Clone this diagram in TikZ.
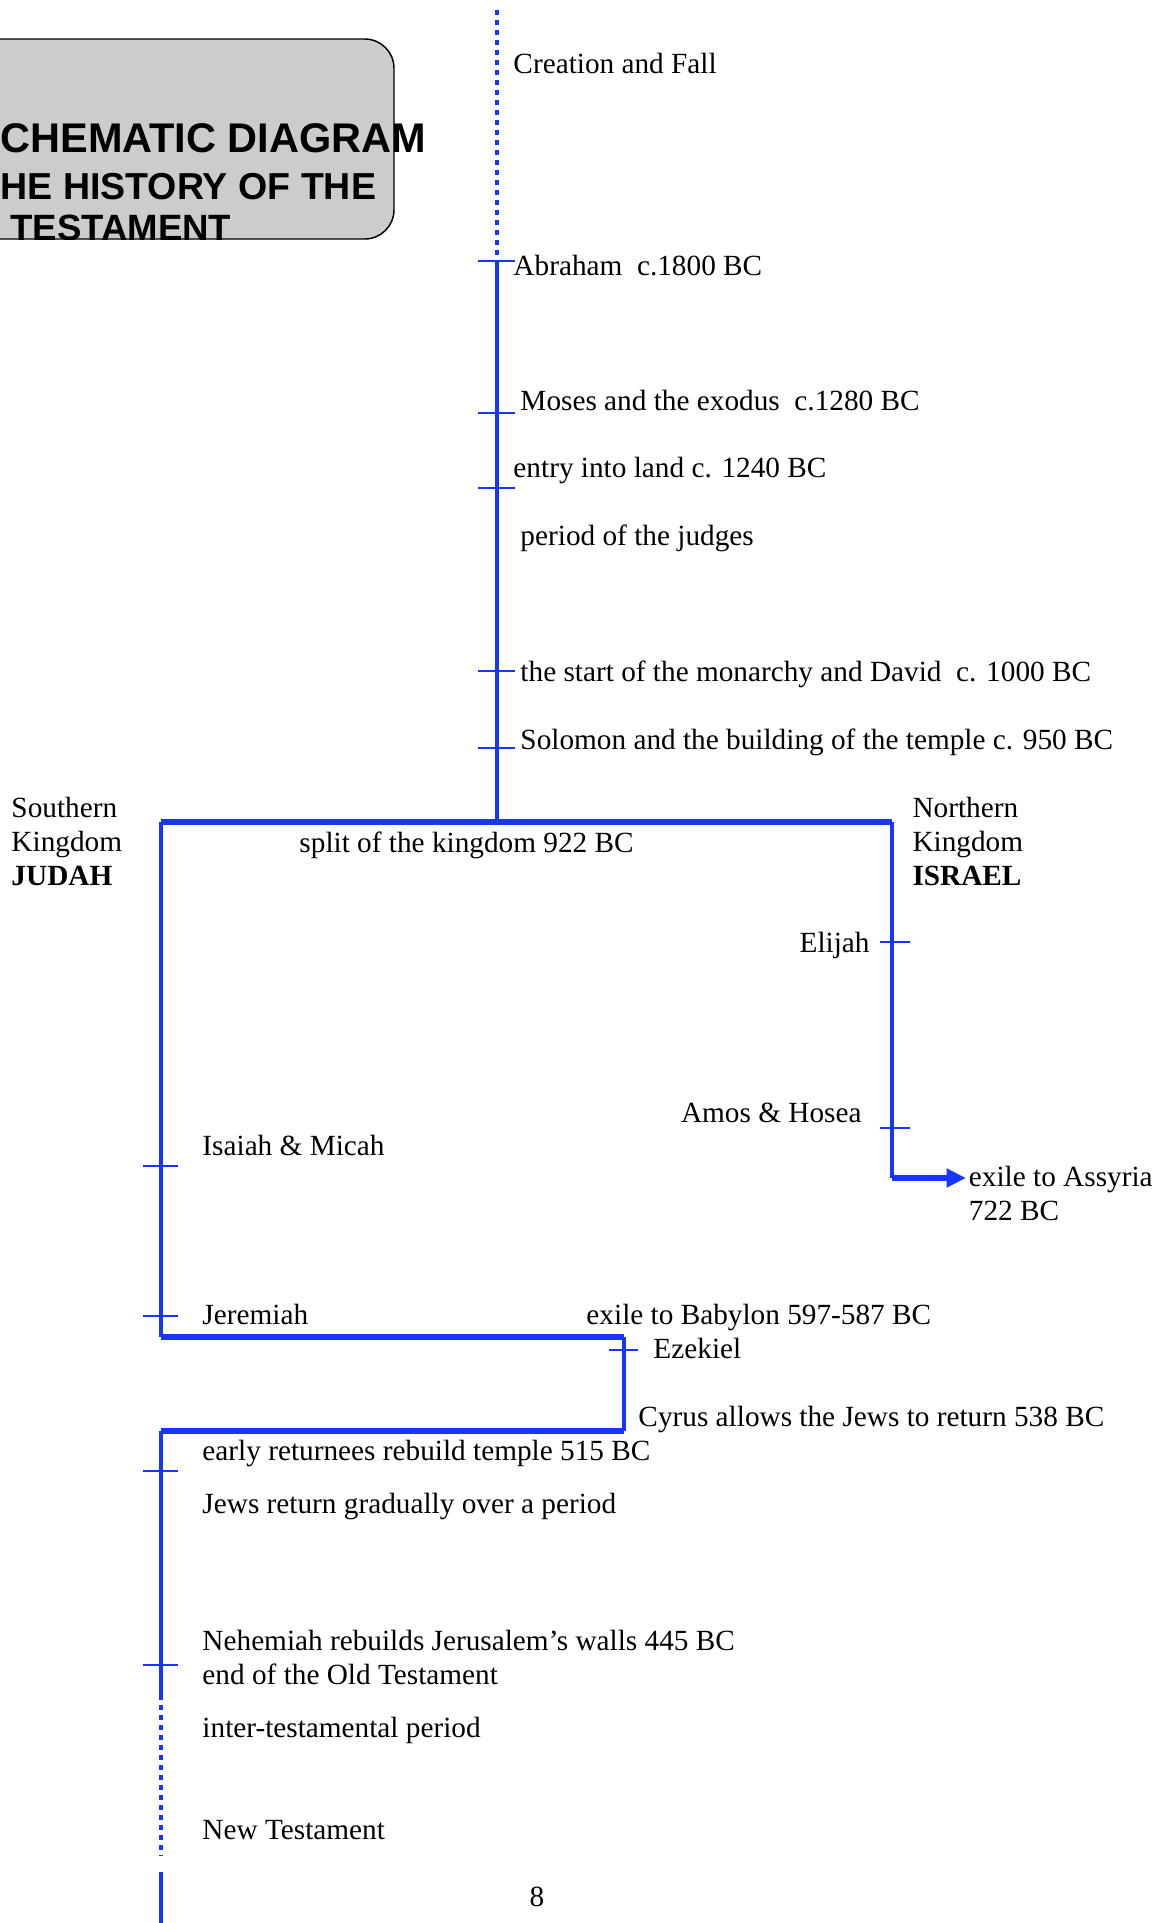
\documentclass[tikz,border=0pt]{standalone}
\usepackage{fontspec}
\setmainfont{Liberation Serif}
\newfontfamily\titlefont{Liberation Sans}
\usepackage{xcolor}
\usepackage{tikz}
\usetikzlibrary{positioning}
\usetikzlibrary{arrows.meta}
\usetikzlibrary{calc}

\definecolor{tlblue}{RGB}{24,52,255}

\begin{document}
\begin{tikzpicture}[x=0.41pt, y=-0.41pt,
            tl/.style={draw=tlblue, line width=1.8pt},
            tlthick/.style={draw=tlblue, line width=2.3pt},
            tldots/.style={draw=tlblue, line width=1.9pt, dash pattern=on 1.9pt off 2.2pt},
            tick/.style={draw=tlblue, line width=1pt},
            lbl/.style={anchor=base west, inner sep=0pt, align=left,
            font=\fontsize{12}{13.8}\selectfont},
            ttl/.style={anchor=base west, inner sep=0pt,
            font=\titlefont\bfseries\fontsize{15}{17}\selectfont}]
            \useasboundingbox (0,0) rectangle (1168,1923);

            % title box
            \draw[fill=black!20, line width=0.6pt, rounded corners=12pt] (-60,39) rectangle (394,239);
            \begin{scope}
                \clip (-60,0) rectangle (1168,239);
                \node[ttl, font=\titlefont\bfseries\fontsize{17}{19}\selectfont] (title1) at (0,153) {CHEMATIC DIAGRAM};
                \node[ttl, font=\titlefont\bfseries\fontsize{15.4}{17}\selectfont] (title2) at (0,199) {HE HISTORY OF THE};
                \node[ttl] (title3) at (10,240) {TESTAMENT};
            \end{scope}

            % points on the time line
            \coordinate (top) at (497,10);
            \coordinate (abr) at (497,261);
            \coordinate (mos) at (497,413);
            \coordinate (ent) at (497,488);
            \coordinate (mon) at (497,671);
            \coordinate (sol) at (497,748);
            \coordinate (split) at (497,822);
            \coordinate (sw) at (161,822);
            \coordinate (ne) at (892,822);
            \coordinate (eli) at (892,942);
            \coordinate (amo) at (892,1128);
            \coordinate (asy) at (892,1178);
            \coordinate (asyend) at (966,1178);
            \coordinate (isa) at (161,1166);
            \coordinate (jer) at (161,1316);
            \coordinate (bab) at (161,1337);
            \coordinate (babe) at (624,1337);
            \coordinate (eze) at (624,1350);
            \coordinate (cyr) at (624,1431);
            \coordinate (ret) at (161,1431);
            \coordinate (early) at (161,1471);
            \coordinate (neh) at (161,1665);
            \coordinate (dotbeg) at (161,1695);
            \coordinate (dotend) at (161,1856);
            \coordinate (nt) at (161,1872);
            \coordinate (bot) at (161,1923);

            % time line
            \draw[tldots] (top) -- (abr);
            \draw[tl] (abr) -- (split);
            \draw[tl] (sw) -- (bab);
            \draw[tl] (ne) -- (asy);
            \draw[tlthick] (sw) -- (ne);
            \draw[tlthick, -{Triangle[length=8pt,width=7.4pt]}] (asy) -- (asyend);
            \draw[tlthick] (bab) -- (babe);
            \draw[tl] (babe) -- (cyr);
            \draw[tlthick] (cyr) -- (ret);
            \draw[tl] (ret) -- (dotbeg);
            \draw[tldots] (dotbeg) -- (dotend);
            \draw[tl] (nt) -- (bot);

            \foreach \t in {abr,mos,ent,mon,sol}
                \draw[tick] ($(\t)+(-19,0)$) -- ($(\t)+(18,0)$);
            \foreach \t in {eli,amo}
                \draw[tick] ($(\t)+(-12,0)$) -- ($(\t)+(18,0)$);
            \foreach \t in {isa,jer,early,neh}
                \draw[tick] ($(\t)+(-18,0)$) -- ($(\t)+(17,0)$);
            \draw[tick] ($(eze)+(-15,0)$) -- ($(eze)+(14,0)$);

            % labels
            \node[lbl] (creation) at (513,74) {Creation and Fall};
            \node[lbl] (abraham) at (513,275) {Abraham~~c.1800 BC};
            \node[lbl] (moses) at (520,410) {Moses and the exodus~~c.1280 BC};
            \node[lbl] (entry) at (513,477) {entry into land c. 1240 BC};
            \node[lbl] (judges) at (520,545) {period of the judges};
            \node[lbl] (monarchy) at (520,681) {the start of the monarchy and David~~c. 1000 BC};
            \node[lbl] (solomon) at (520,749) {Solomon and the building of the temple c. 950 BC};
            \node[lbl] (splitlbl) at (299,852) {split of the kingdom 922 BC};
            \node[lbl, anchor=north west] (judah) at (11,797) {Southern\\Kingdom\\\textbf{JUDAH}};
            \node[lbl, anchor=north west] (israel) at (912,797) {Northern\\Kingdom\\\textbf{ISRAEL}};
            \node[lbl, anchor=base east] (elijah) at (870,952) {Elijah};
            \node[lbl, anchor=base east] (amos) at (862,1122) {Amos \& Hosea};
            \node[lbl, anchor=north west] (assyria) [right=1pt of asyend, yshift=5pt, anchor=north west] {exile to Assyria\\722 BC};
            \node[lbl] (isaiah) at (202,1155) {Isaiah \& Micah};
            \node[lbl] (jeremiah) at (202,1324) {Jeremiah};
            \node[lbl] (babylon) at (586,1324) {exile to Babylon 597-587 BC};
            \node[lbl] (ezekiel) at (653,1358) {Ezekiel};
            \node[lbl] (cyrus) at (638,1426) {Cyrus allows the Jews to return 538 BC};
            \node[lbl] (returnees) at (202,1460) {early returnees rebuild temple 515 BC};
            \node[lbl] (gradual) at (202,1513) {Jews return gradually over a period};
            \node[lbl, anchor=north west] (nehemiah) at (202,1630) {Nehemiah rebuilds Jerusalem’s walls 445 BC\\end of the Old Testament};
            \node[lbl] (inter) at (202,1737) {inter-testamental period};
            \node[lbl] (newtest) at (202,1839) {New Testament};
            \node[lbl, anchor=base] (pagenum) at (537,1906) {8};
        \end{tikzpicture}
\end{document}
